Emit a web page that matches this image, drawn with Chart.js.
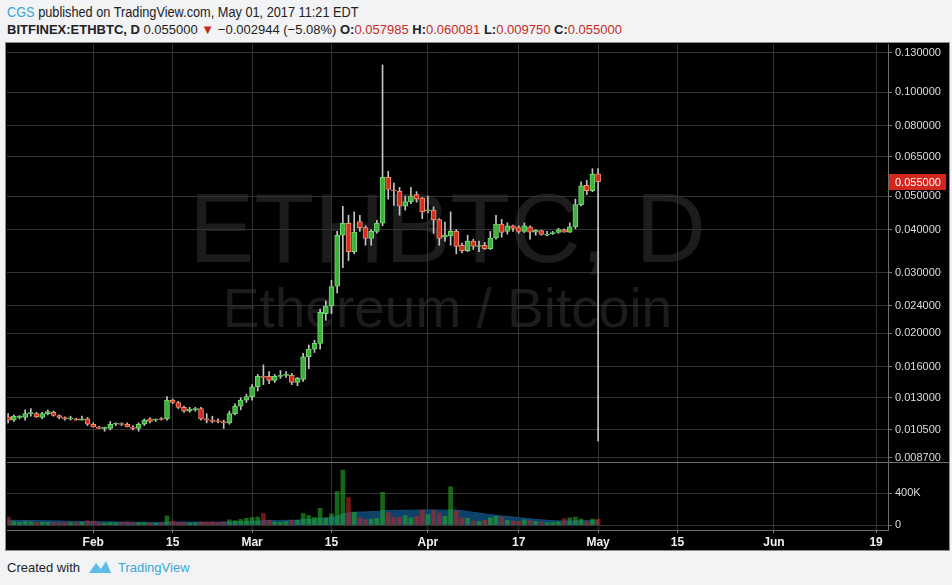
<!DOCTYPE html>
<html>
<head>
<meta charset="utf-8">
<script src="https://cdn.jsdelivr.net/npm/chart.js@4.4.0/dist/chart.umd.min.js"></script>
<style>
  body { margin: 0; width: 952px; height: 585px; overflow: hidden; background: #f1f3f5;
         font-family: "Liberation Sans", Arial, sans-serif; color: #222; }
  #line1 { position: absolute; left: 7px; top: 4px; font-size: 14px; white-space: nowrap;
           transform: scaleX(0.91); transform-origin: left top; }
  #line2 { position: absolute; left: 7px; top: 22px; font-size: 13px; white-space: nowrap; }
  .blue { color: #3aa6d8; }
  .red { color: #c62b1e; }
  b { font-weight: bold; }
  #panel { position: absolute; left: 5px; top: 42px; width: 943px; height: 507px; background: #000; border: 1px solid #8a8a8a; }
  .wm { position: absolute; left: 1px; width: 881px; text-align: center; line-height: 1;
        font-family: "Liberation Sans", Arial, sans-serif; color: #1c1c1c; white-space: nowrap; }
  #wm1 { top: 136px; font-size: 98px; }
  #wm2 { top: 238px; font-size: 55px; }
  canvas { position: absolute; left: 0; top: 0; }
  #footer { position: absolute; left: 7px; top: 559px; font-size: 13px; white-space: nowrap; }
  #footer svg { vertical-align: -3px; margin: 0 6px 0 8px; }
</style>
</head>
<body>
<div id="line1"><span class="blue">CGS</span> published on TradingView.com, May 01, 2017 11:21 EDT</div>
<div id="line2"><b>BITFINEX:ETHBTC, D</b> 0.055000 <span class="red">&#9660;</span> &minus;0.002944 (&minus;5.08%) <b>O:</b><span class="red">0.057985</span> <b>H:</b><span class="red">0.060081</span> <b>L:</b><span class="red">0.009750</span> <b>C:</b><span class="red">0.055000</span></div>
<div id="panel">
  <div class="wm" id="wm1">ETHBTC, D</div>
  <div class="wm" id="wm2">Ethereum / Bitcoin</div>
  <canvas id="chart" width="943" height="507"></canvas>
</div>
<div id="footer">Created with<svg width="24" height="16" viewBox="0 0 24 16"><path d="M1 14 L8 4 L13 10 L18 2 L23 14 Z" fill="#5cbde8"/></svg><span class="blue">TradingView</span></div>
<script>
// daily candles, Jan 17 2017 (day 16 of the year) .. May 01 2017 (day 120)
const firstDay = 16;
const open = [
  0.01145, 0.0112, 0.0114, 0.0114, 0.0117, 0.0117, 0.0114, 0.0117, 0.0118, 0.01155,
  0.0114, 0.0113, 0.0113, 0.0112, 0.0113, 0.0109, 0.0107, 0.0106, 0.0106, 0.0109,
  0.0109, 0.0109, 0.0107, 0.0106, 0.0109, 0.0113, 0.0112, 0.0113, 0.0113, 0.0128,
  0.0126, 0.0122, 0.0119, 0.0120, 0.0121, 0.0113, 0.0112, 0.0111, 0.0111, 0.0110,
  0.0117, 0.0123, 0.0128, 0.0131, 0.0140, 0.0150, 0.0150, 0.0146, 0.0150, 0.0151,
  0.0151, 0.0144, 0.0147, 0.0171, 0.0180, 0.0187, 0.0228, 0.0240, 0.0274, 0.0385,
  0.0417, 0.0345, 0.0422, 0.0405, 0.0377, 0.0395, 0.0417, 0.0567, 0.0520, 0.0516,
  0.0467, 0.0482, 0.0505, 0.0493, 0.0453, 0.0455, 0.0427, 0.0380, 0.0383, 0.0395,
  0.0360, 0.0347, 0.0370, 0.0357, 0.0360, 0.0352, 0.0378, 0.0415, 0.0395, 0.0410,
  0.0405, 0.0395, 0.0407, 0.0393, 0.0397, 0.0385, 0.0389, 0.0392, 0.0400, 0.0393,
  0.0407, 0.0472, 0.0537, 0.0518, 0.057985
];
const high = [
  0.0117, 0.0116, 0.01155, 0.0120, 0.0121, 0.0118, 0.0118, 0.0120, 0.0119, 0.0116,
  0.01145, 0.0115, 0.01135, 0.0115, 0.0114, 0.0110, 0.01075, 0.0107, 0.0111, 0.0110,
  0.0110, 0.0110, 0.0108, 0.0110, 0.0113, 0.0114, 0.0113, 0.0114, 0.0131, 0.0129,
  0.0127, 0.0123, 0.0122, 0.0122, 0.0122, 0.0117, 0.0115, 0.0113, 0.0112, 0.0119,
  0.0125, 0.0130, 0.0133, 0.0142, 0.0152, 0.0162, 0.0155, 0.0152, 0.0156, 0.0155,
  0.0153, 0.0149, 0.0175, 0.0185, 0.0191, 0.0235, 0.0248, 0.0285, 0.0395, 0.0467,
  0.0440, 0.0450, 0.0440, 0.0410, 0.0400, 0.0425, 0.1200, 0.0590, 0.0545, 0.0530,
  0.0500, 0.0530, 0.0515, 0.0495, 0.0500, 0.0465, 0.0430, 0.0420, 0.0450, 0.0400,
  0.0365, 0.0385, 0.0375, 0.0370, 0.0367, 0.0395, 0.0440, 0.0428, 0.0418, 0.0412,
  0.0410, 0.0418, 0.0410, 0.0400, 0.0398, 0.0395, 0.0395, 0.0403, 0.0402, 0.0418,
  0.0490, 0.0550, 0.0555, 0.0600, 0.060081
];
const low = [
  0.0110, 0.0111, 0.0113, 0.0112, 0.0115, 0.0114, 0.0113, 0.0116, 0.0115, 0.0113,
  0.0112, 0.0112, 0.0112, 0.0112, 0.0108, 0.0107, 0.0106, 0.0104, 0.0105, 0.0108,
  0.0108, 0.0107, 0.0105, 0.0104, 0.0108, 0.0110, 0.0111, 0.0112, 0.0112, 0.0125,
  0.0121, 0.0118, 0.0118, 0.0119, 0.0112, 0.0110, 0.0110, 0.0110, 0.0106, 0.0109,
  0.0116, 0.0120, 0.0126, 0.0128, 0.0136, 0.0142, 0.0143, 0.0144, 0.0148, 0.0149,
  0.0142, 0.0141, 0.0145, 0.0158, 0.0176, 0.0180, 0.0218, 0.0228, 0.0262, 0.0310,
  0.0325, 0.0340, 0.0395, 0.0360, 0.0360, 0.0390, 0.0410, 0.0490, 0.0470, 0.0440,
  0.0455, 0.0475, 0.0480, 0.0430, 0.0447, 0.0390, 0.0360, 0.0370, 0.0360, 0.0340,
  0.0342, 0.0345, 0.0350, 0.0345, 0.0350, 0.0350, 0.0375, 0.0380, 0.0388, 0.0395,
  0.0390, 0.0392, 0.0375, 0.0385, 0.0385, 0.0383, 0.0387, 0.0390, 0.0393, 0.0392,
  0.0402, 0.0468, 0.0505, 0.0515, 0.009750
];
const close = [
  0.0112, 0.0115, 0.01148, 0.0117, 0.01172, 0.01145, 0.0117, 0.01185, 0.01155, 0.0114,
  0.0113, 0.01135, 0.0112, 0.0113, 0.0109, 0.0107, 0.0106, 0.01062, 0.0109, 0.01092,
  0.01088, 0.0107, 0.0106, 0.0109, 0.0112, 0.0111, 0.01123, 0.01125, 0.0128, 0.0126,
  0.0122, 0.0119, 0.01205, 0.0121, 0.0113, 0.0112, 0.0111, 0.01108, 0.0110, 0.0117,
  0.0123, 0.0128, 0.0131, 0.0140, 0.0150, 0.0149, 0.0146, 0.0150, 0.0151, 0.01515,
  0.0144, 0.0148, 0.0171, 0.0180, 0.0187, 0.0230, 0.0240, 0.0273, 0.0385, 0.0417,
  0.0345, 0.0393, 0.0405, 0.0377, 0.0395, 0.0417, 0.0567, 0.0523, 0.0518, 0.0467,
  0.0482, 0.0500, 0.0490, 0.0450, 0.0456, 0.0427, 0.0377, 0.0385, 0.0395, 0.0357,
  0.0347, 0.0370, 0.0357, 0.0359, 0.0352, 0.0378, 0.0415, 0.0392, 0.0410, 0.0403,
  0.0395, 0.0410, 0.0393, 0.0398, 0.0387, 0.0388, 0.0392, 0.0400, 0.0393, 0.0407,
  0.0472, 0.0535, 0.0518, 0.0579, 0.055000
];
const volume = [
  100000, 45000, 35000, 45000, 40000, 30000, 35000, 35000, 30000, 30000,
  30000, 30000, 30000, 35000, 55000, 50000, 30000, 25000, 30000, 30000,
  35000, 35000, 30000, 30000, 30000, 25000, 25000, 30000, 115000, 50000,
  30000, 30000, 25000, 30000, 40000, 35000, 40000, 30000, 40000, 65000,
  55000, 70000, 85000, 95000, 100000, 145000, 60000, 40000, 35000, 45000,
  60000, 60000, 145000, 120000, 95000, 210000, 90000, 140000, 420000, 690000,
  345000, 160000, 90000, 70000, 75000, 85000, 410000, 155000, 95000, 100000,
  120000, 90000, 110000, 185000, 130000, 185000, 150000, 110000, 480000, 175000,
  90000, 85000, 50000, 45000, 60000, 90000, 110000, 100000, 60000, 50000,
  45000, 65000, 55000, 45000, 40000, 30000, 30000, 40000, 80000, 90000,
  100000, 75000, 40000, 75000, 75000
];
const volumeMA = [
  60000, 60000, 58000, 57000, 56000, 55000, 54000, 53000, 52000, 50000,
  48000, 46000, 45000, 44000, 44000, 43000, 42000, 41000, 40000, 39000,
  38000, 37000, 36000, 35000, 34000, 34000, 33000, 33000, 37000, 38000,
  38000, 38000, 37000, 37000, 37000, 36000, 36000, 36000, 37000, 38000,
  40000, 42000, 44000, 47000, 50000, 55000, 57000, 58000, 58000, 59000,
  60000, 62000, 67000, 71000, 76000, 85000, 88000, 95000, 112000, 140000,
  155000, 160000, 163000, 165000, 168000, 170000, 180000, 182000, 183000, 184000,
  185000, 186000, 187000, 188000, 189000, 188000, 187000, 186000, 190000, 188000,
  180000, 170000, 160000, 150000, 140000, 130000, 122000, 115000, 108000, 100000,
  92000, 85000, 78000, 70000, 65000, 60000, 56000, 52000, 50000, 50000,
  52000, 55000, 55000, 55000, 56000
];
const priceTicks = [0.0087, 0.0105, 0.013, 0.016, 0.02, 0.024, 0.03, 0.04, 0.05, 0.065, 0.08, 0.1, 0.13];
const volumeTicks = [0, 400000];
const timeTickDays = [31, 45, 59, 73, 90, 106, 120, 134, 151, 169];
const timeTickLabels = ["Feb", "15", "Mar", "15", "Apr", "17", "May", "15", "Jun", "19"];

const upFill = "#3cb23c", upBorder = "#74d874";
const downFill = "#cf2f1c", downBorder = "#f28b70";
const gridColor = "#343434";

const day = (i) => firstDay + i;
const isUp = open.map((o, i) => close[i] >= o);

// no extra padding for edge labels: panes must fill the panel exactly
const noPad = (w, h) => (s) => {
  if (w) s.width = w;
  if (h) s.height = h;
  s.paddingTop = s.paddingBottom = s.paddingLeft = s.paddingRight = 0;
};

const paneExtras = {
  id: "paneExtras",
  afterDraw(chart) {
    const { ctx, chartArea, scales } = chart;
    const y = scales.y;
    // separator between price and volume panes
    ctx.save();
    ctx.strokeStyle = "#6e6e6e";
    ctx.lineWidth = 1;
    ctx.beginPath();
    ctx.moveTo(chartArea.left, Math.round(y.bottom) + 0.5);
    ctx.lineTo(chart.width, Math.round(y.bottom) + 0.5);
    ctx.stroke();
    // last price label
    const last = close[close.length - 1];
    const py = Math.round(y.getPixelForValue(last));
    ctx.fillStyle = "#d3261c";
    ctx.fillRect(chartArea.right + 1, py - 8, 57, 16);
    ctx.fillStyle = "#fff";
    ctx.font = "11px 'Liberation Sans'";
    ctx.textBaseline = "middle";
    ctx.fillText(last.toFixed(6), chartArea.right + 7, py + 1);
    ctx.restore();
  },
};

new Chart(document.getElementById("chart"), {
  type: "bar",
  data: {
    datasets: [
      {
        type: "line",
        label: "Volume MA",
        data: volumeMA.map((v, i) => ({ x: day(i), y: v })),
        yAxisID: "yv",
        fill: "origin",
        backgroundColor: "#0e4168",
        borderColor: "#124c7a",
        borderWidth: 1,
        pointRadius: 0,
        tension: 0.3,
        order: 4,
      },
      {
        label: "Volume",
        data: volume.map((v, i) => ({ x: day(i), y: v })),
        yAxisID: "yv",
        backgroundColor: isUp.map((u) => (u ? "rgba(38,170,38,0.6)" : "rgba(185,40,40,0.6)")),
        barThickness: 4,
        order: 3,
      },
      {
        label: "Wick",
        data: low.map((l, i) => ({ x: day(i), y: [l, high[i]] })),
        yAxisID: "y",
        backgroundColor: "#c4c4c4",
        barThickness: 1,
        order: 2,
      },
      {
        label: "Body",
        data: open.map((o, i) => ({ x: day(i), y: [o, close[i]] })),
        yAxisID: "y",
        backgroundColor: isUp.map((u) => (u ? upFill : downFill)),
        borderColor: isUp.map((u) => (u ? upBorder : downBorder)),
        borderWidth: 1,
        borderSkipped: false,
        minBarLength: 1,
        barThickness: 5,
        order: 1,
      },
    ],
  },
  options: {
    responsive: false,
    animation: false,
    grouped: false,
    layout: { padding: { left: 1, top: 1, right: 0, bottom: 0 } },
    plugins: { legend: { display: false }, tooltip: { enabled: false } },
    scales: {
      x: {
        type: "linear",
        offset: false,
        min: 15.8,
        max: 171.1,
        afterBuildTicks: (s) => { s.ticks = timeTickDays.map((v) => ({ value: v })); },
        afterFit: noPad(0, 20),
        grid: { color: gridColor, offset: false, tickLength: 3, tickColor: "#777" },
        border: { color: "#6e6e6e" },
        ticks: {
          color: "#f0f0f0",
          autoSkip: false,
          maxRotation: 0,
          padding: 2,
          font: { family: "'Liberation Sans'", size: 12, weight: "bold" },
          callback: (v) => timeTickLabels[timeTickDays.indexOf(v)],
        },
      },
      y: {
        type: "logarithmic",
        position: "right",
        stack: "panes",
        stackWeight: 418,
        min: 0.00847,
        max: 0.138,
        afterBuildTicks: (s) => { s.ticks = priceTicks.map((v) => ({ value: v })); },
        afterFit: noPad(61, 0),
        grid: { color: gridColor, tickLength: 4, tickColor: "#777" },
        border: { color: "#6e6e6e" },
        ticks: {
          color: "#dcdcdc",
          autoSkip: false,
          padding: 3,
          font: { family: "'Liberation Sans'", size: 11 },
          callback: (v) => v.toFixed(6),
        },
      },
      yv: {
        type: "linear",
        position: "right",
        stack: "panes",
        stackWeight: 68,
        min: -62000,
        max: 790000,
        afterBuildTicks: (s) => { s.ticks = volumeTicks.map((v) => ({ value: v })); },
        afterFit: noPad(61, 0),
        grid: { color: gridColor, tickLength: 4, tickColor: "#777" },
        border: { color: "#6e6e6e" },
        ticks: {
          color: "#dcdcdc",
          autoSkip: false,
          padding: 3,
          font: { family: "'Liberation Sans'", size: 11 },
          callback: (v) => (v === 0 ? "0" : v / 1000 + "K"),
        },
      },
    },
  },
  plugins: [paneExtras],
});
</script>
</body>
</html>
